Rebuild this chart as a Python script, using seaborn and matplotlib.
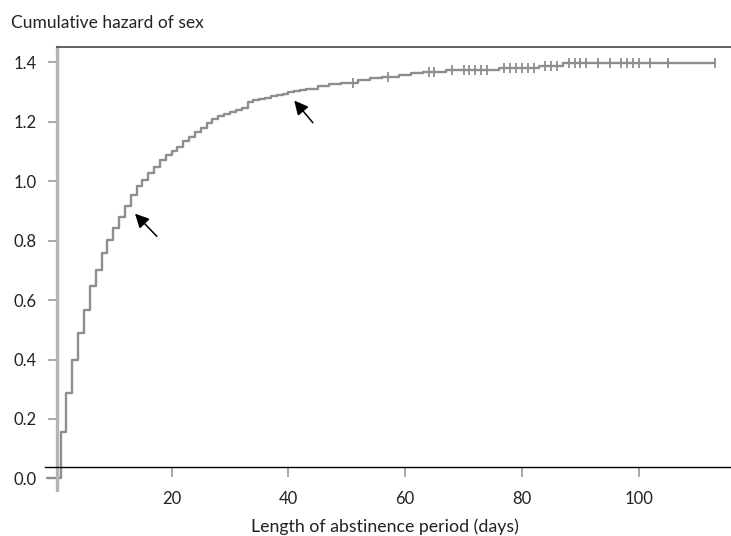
import matplotlib
matplotlib.use('Agg')
import matplotlib.pyplot as plt
import seaborn as sns
import numpy as np
import pandas as pd

# dados
start_day = -1.3
end_day = 113
event_days = [1, 2, 3, 4, 5, 6, 7, 8, 9, 10, 11, 12, 13, 14, 15, 16, 17, 18, 19, 20,
              21, 22, 23, 24, 25, 26, 27, 28, 29, 30, 31, 32, 33, 34, 35, 36, 37, 38, 39, 40,
              41, 42, 43, 45, 47, 49, 52, 54, 56, 59, 61, 63, 67, 76, 83, 87]
cum_hazard = [0.155, 0.286, 0.398, 0.490, 0.567, 0.646, 0.701, 0.760, 0.804, 0.844,
              0.880, 0.917, 0.954, 0.984, 1.004, 1.029, 1.049, 1.072, 1.089, 1.103,
              1.117, 1.135, 1.150, 1.166, 1.180, 1.195, 1.208, 1.219, 1.226, 1.233,
              1.240, 1.248, 1.268, 1.273, 1.278, 1.282, 1.287, 1.291, 1.295, 1.300,
              1.304, 1.308, 1.312, 1.320, 1.326, 1.332, 1.340, 1.346, 1.351, 1.358,
              1.364, 1.369, 1.373, 1.382, 1.389, 1.397]
censor_days = [51, 57, 64, 65, 68, 70, 71, 72, 73, 74, 77, 78, 79, 80, 81, 82, 84, 85, 86,
               88, 89, 90, 91, 93, 95, 97, 98, 99, 100, 102, 105, 113]
x_ticks = [20, 40, 60, 80, 100]
y_ticks = [0.0, 0.2, 0.4, 0.6, 0.8, 1.0, 1.2, 1.4]

sns.set_style('white')
plt.rcParams['font.family'] = ['Lato', 'DejaVu Sans']

t = [start_day] + event_days + [end_day]
h = [0.0] + cum_hazard + [cum_hazard[-1]]
df = pd.DataFrame({'dia': t, 'risco': h})

# valor da curva em cada censura
idx = np.searchsorted(np.array(t), np.array(censor_days), side='right') - 1
df_c = pd.DataFrame({'dia': censor_days, 'risco': np.array(h)[idx]})

fig = plt.figure(figsize=(7.31, 5.36), dpi=100)
ax = fig.add_axes([45 / 731, 46 / 536, 686 / 731, 443 / 536])

cor = '#8e8e8e'
sns.lineplot(x='dia', y='risco', data=df, drawstyle='steps-post', estimator=None,
             color=cor, lw=1.7, ax=ax)
sns.scatterplot(x='dia', y='risco', data=df_c, marker='|', s=50, color=cor,
                linewidth=1.3, ax=ax)

ax.set_xlim(-1.68, 115.8)
ax.set_ylim(-0.039, 1.452)
ax.set_xticks(x_ticks)
ax.set_yticks(y_ticks)
ax.set_yticklabels([f'{v:.1f}' for v in y_ticks])
ax.set_xlabel('')
ax.set_ylabel('')

ax.spines['right'].set_visible(False)
ax.spines['left'].set_position(('data', 0.38))
ax.spines['left'].set_color('#b4b4b4')
ax.spines['left'].set_linewidth(2.4)
ax.spines['top'].set_bounds(0.38, 115.8)
ax.spines['top'].set_color('#555555')
ax.spines['top'].set_linewidth(1.3)
ax.spines['bottom'].set_position(('data', 0.038))
ax.spines['bottom'].set_color('black')
ax.spines['bottom'].set_linewidth(1.0)

ax.tick_params(axis='x', direction='out', length=7, width=1.2, color='#999999',
               labelcolor='#222222', labelsize=12, pad=10, bottom=True)
ax.tick_params(axis='y', direction='out', length=6.5, width=1.2, color='#999999',
               labelcolor='#222222', labelsize=12, pad=8, left=True)

# setas
seta = dict(arrowstyle='-|>', color='black', lw=1.1, mutation_scale=21)
ax.annotate('', xy=(13.4, 0.898), xytext=(17.8, 0.808), arrowprops=seta)
ax.annotate('', xy=(40.7, 1.279), xytext=(44.5, 1.190), arrowprops=seta)

fig.text(11 / 731, 1 - 23 / 536, 'Cumulative hazard of sex', fontsize=12.5,
         color='#222222', va='center', ha='left')
fig.text(385 / 731, 1 - 527 / 536, 'Length of abstinence period (days)', fontsize=12.8,
         color='#222222', va='center', ha='center')

fig.savefig('out.png', dpi=100)
